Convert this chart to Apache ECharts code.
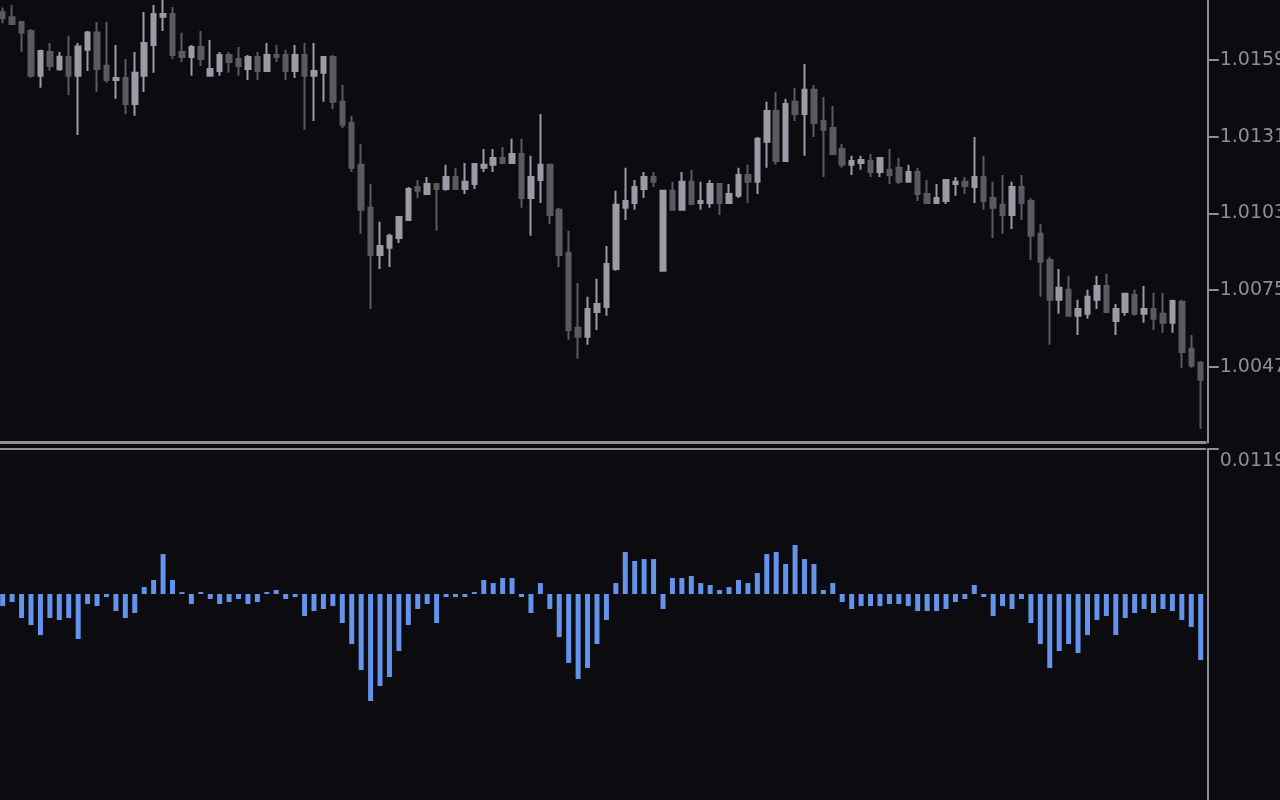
<!DOCTYPE html>
<html>
<head>
<meta charset="utf-8">
<script src="https://cdn.jsdelivr.net/npm/echarts@6/dist/echarts.min.js"></script>
<style>
html,body{margin:0;padding:0;background:#0b0b10;}
#chart{width:1280px;height:800px;}
</style>
</head>
<body>
<div id="chart"></div>
<script>
const opens = [
1.01764,1.01746,1.01729,1.01696,1.01532,1.01619,1.01556,1.01601,1.01532,1.01627,
1.01690,1.01569,1.01517,1.01524,1.01429,1.01532,1.01645,1.01748,1.01758,1.01619,
1.01601,1.01637,1.01532,1.01550,1.01608,1.01594,1.01557,1.01601,1.01550,1.01608,
1.01608,1.01550,1.01608,1.01532,1.01543,1.01601,1.01437,1.01360,1.01207,1.01050,
1.00878,1.00904,1.00940,1.01006,1.01126,1.01101,1.01137,1.01119,1.01163,1.01119,
1.01137,1.01196,1.01207,1.01232,1.01214,1.01247,1.01086,1.01152,1.01207,1.01043,
1.00886,1.00612,1.00579,1.00670,1.00688,1.00827,1.01050,1.01068,1.01119,1.01163,
1.00820,1.01112,1.01043,1.01145,1.01068,1.01068,1.01137,1.01068,1.01094,1.01170,
1.01145,1.01291,1.01404,1.01221,1.01437,1.01393,1.01481,1.01367,1.01342,1.01265,
1.01207,1.01214,1.01221,1.01181,1.01189,1.01196,1.01145,1.01181,1.01101,1.01068,
1.01075,1.01137,1.01145,1.01126,1.01163,1.01086,1.01061,1.01024,1.01126,1.01075,
1.00955,1.00860,1.00714,1.00751,1.00656,1.00663,1.00714,1.00765,1.00637,1.00670,
1.00732,1.00663,1.00681,1.00663,1.00630,1.00707,1.00535,1.00484
];
const closes = [
1.01742,1.01721,1.01690,1.01532,1.01623,1.01568,1.01602,1.01532,1.01639,1.01690,
1.01557,1.01517,1.01524,1.01429,1.01543,1.01652,1.01758,1.01758,1.01608,1.01601,
1.01637,1.01594,1.01557,1.01608,1.01583,1.01568,1.01601,1.01550,1.01608,1.01601,
1.01550,1.01608,1.01532,1.01550,1.01601,1.01437,1.01353,1.01196,1.01043,1.00878,
1.00911,1.00948,1.01017,1.01119,1.01112,1.01137,1.01119,1.01163,1.01119,1.01145,
1.01210,1.01207,1.01232,1.01214,1.01247,1.01086,1.01163,1.01207,1.01024,1.00878,
1.00604,1.00579,1.00681,1.00699,1.00845,1.01061,1.01075,1.01126,1.01163,1.01145,
1.01112,1.01043,1.01145,1.01064,1.01075,1.01137,1.01068,1.01101,1.01170,1.01145,
1.01302,1.01404,1.01221,1.01429,1.01393,1.01481,1.01360,1.01335,1.01247,1.01207,
1.01221,1.01225,1.01181,1.01232,1.01170,1.01145,1.01181,1.01101,1.01068,1.01086,
1.01152,1.01145,1.01130,1.01163,1.01075,1.01050,1.01024,1.01126,1.01068,1.00948,
1.00853,1.00714,1.00758,1.00656,1.00681,1.00725,1.00765,1.00670,1.00681,1.00736,
1.00663,1.00681,1.00645,1.00630,1.00710,1.00524,1.00473,1.00422
];
const lows = [
1.01724,1.01721,1.01620,1.01525,1.01489,1.01551,1.01551,1.01462,1.01316,1.01550,
1.01473,1.01507,1.01448,1.01393,1.01386,1.01473,1.01543,1.01696,1.01594,1.01583,
1.01532,1.01568,1.01532,1.01532,1.01543,1.01532,1.01517,1.01517,1.01550,1.01583,
1.01517,1.01524,1.01335,1.01367,1.01437,1.01411,1.01342,1.01181,1.00955,1.00681,
1.00827,1.00834,1.00922,1.01006,1.01086,1.01101,1.00966,1.01112,1.01119,1.01101,
1.01119,1.01181,1.01181,1.01214,1.01214,1.01050,1.00948,1.01068,1.00991,1.00834,
1.00568,1.00499,1.00550,1.00604,1.00656,1.00820,1.01006,1.01043,1.01086,1.01126,
1.00820,1.01043,1.01043,1.01064,1.01043,1.01050,1.01024,1.01068,1.01086,1.01068,
1.01101,1.01196,1.01207,1.01221,1.01367,1.01240,1.01309,1.01163,1.01247,1.01196,
1.01170,1.01189,1.01163,1.01163,1.01137,1.01137,1.01145,1.01075,1.01068,1.01064,
1.01064,1.01094,1.01101,1.01068,1.01043,1.00940,1.00955,1.00973,1.01006,1.00860,
1.00725,1.00550,1.00663,1.00656,1.00586,1.00645,1.00681,1.00670,1.00586,1.00656,
1.00656,1.00630,1.00604,1.00594,1.00594,1.00466,1.00466,1.00243
];
const highs = [
1.01782,1.01791,1.01729,1.01702,1.01627,1.01652,1.01619,1.01678,1.01652,1.01696,
1.01729,1.01729,1.01645,1.01594,1.01619,1.01765,1.01791,1.01809,1.01783,1.01689,
1.01645,1.01696,1.01663,1.01619,1.01619,1.01637,1.01608,1.01619,1.01652,1.01645,
1.01627,1.01645,1.01652,1.01652,1.01601,1.01608,1.01499,1.01386,1.01283,1.01137,
1.00999,1.00955,1.01017,1.01126,1.01152,1.01163,1.01137,1.01207,1.01196,1.01214,
1.01214,1.01265,1.01265,1.01272,1.01302,1.01302,1.01240,1.01393,1.01207,1.01050,
1.00966,1.00776,1.00725,1.00791,1.00911,1.01112,1.01196,1.01152,1.01181,1.01181,
1.01112,1.01145,1.01181,1.01189,1.01145,1.01152,1.01137,1.01137,1.01196,1.01207,
1.01309,1.01437,1.01473,1.01448,1.01488,1.01575,1.01499,1.01455,1.01422,1.01283,
1.01240,1.01240,1.01247,1.01232,1.01265,1.01232,1.01207,1.01196,1.01152,1.01137,
1.01152,1.01163,1.01163,1.01309,1.01240,1.01145,1.01170,1.01145,1.01170,1.01086,
1.00991,1.00871,1.00827,1.00802,1.00714,1.00751,1.00802,1.00809,1.00699,1.00740,
1.00751,1.00765,1.00740,1.00740,1.00714,1.00714,1.00586,1.00491
];
const oscValues = [
-0.00099,-0.00066,-0.00197,-0.00255,-0.00337,-0.00197,-0.00213,-0.00197,-0.00369,-0.00082,
-0.00099,-0.00025,-0.00140,-0.00197,-0.00156,0.00057,0.00115,0.00328,0.00115,0.00016,
-0.00082,0.00016,-0.00041,-0.00082,-0.00066,-0.00041,-0.00082,-0.00066,0.00016,0.00033,
-0.00041,-0.00025,-0.00181,-0.00140,-0.00123,-0.00099,-0.00238,-0.00411,-0.00624,-0.00878,
-0.00755,-0.00681,-0.00468,-0.00255,-0.00123,-0.00082,-0.00238,-0.00025,-0.00025,-0.00025,
0.00016,0.00115,0.00090,0.00131,0.00131,-0.00025,-0.00156,0.00090,-0.00123,-0.00353,
-0.00566,-0.00698,-0.00608,-0.00411,-0.00213,0.00090,0.00345,0.00271,0.00287,0.00287,
-0.00123,0.00131,0.00131,0.00148,0.00090,0.00074,0.00033,0.00057,0.00115,0.00090,
0.00172,0.00328,0.00345,0.00246,0.00402,0.00287,0.00246,0.00033,0.00090,-0.00066,
-0.00123,-0.00099,-0.00099,-0.00099,-0.00082,-0.00082,-0.00099,-0.00140,-0.00140,-0.00140,
-0.00123,-0.00066,-0.00041,0.00074,-0.00025,-0.00181,-0.00099,-0.00123,-0.00041,-0.00238,
-0.00411,-0.00608,-0.00468,-0.00411,-0.00484,-0.00337,-0.00213,-0.00181,-0.00337,-0.00197,
-0.00156,-0.00123,-0.00156,-0.00123,-0.00140,-0.00213,-0.00271,-0.00542
];
const priceTicks = [1.0047, 1.0075, 1.0103, 1.0131, 1.0159];
const oscTicks = [0.0119];
const categories = opens.map((_, i) => String(i));

const candleData = opens.map((o, i) => [o, closes[i], lows[i], highs[i]]);

const AXIS = '#8e8e96';
const TXT = '#8e8e96';
const UP = '#9b9ba8';
const DOWN = '#5a5a61';
const FONT = 'DejaVu Sans';

const chart = echarts.init(document.getElementById('chart'), null, {renderer: 'canvas'});
chart.setOption({
  animation: false,
  backgroundColor: '#0b0b10',
  grid: [
    {left: -2.02, right: 74.6, top: 0, height: 442.5, containLabel: false, outerBoundsMode: 'none'},
    {left: -2.02, right: 74.6, top: 449, bottom: 0, containLabel: false, outerBoundsMode: 'none'}
  ],
  xAxis: [
    {type: 'category', gridIndex: 0, data: categories, boundaryGap: true,
     axisLine: {show: true, onZero: false, lineStyle: {color: AXIS, width: 3}},
     axisTick: {show: false}, axisLabel: {show: false}, splitLine: {show: false}},
    {type: 'category', gridIndex: 1, data: categories, boundaryGap: true, position: 'top',
     axisLine: {show: true, onZero: false, lineStyle: {color: AXIS, width: 2}},
     axisTick: {show: false}, axisLabel: {show: false}, splitLine: {show: false}}
  ],
  yAxis: [
    {type: 'value', gridIndex: 0, position: 'right', offset: 2.3,
     min: 1.001931, max: 1.01809, scale: true,
     axisLine: {show: true, lineStyle: {color: AXIS, width: 2}},
     axisTick: {show: true, length: 11, customValues: priceTicks, lineStyle: {color: AXIS, width: 2}},
     axisLabel: {show: true, customValues: priceTicks, margin: 12, color: TXT,
       fontFamily: FONT, fontSize: 19, verticalAlign: 'middle', padding: [7, 0, 0, 0],
       formatter: v => v.toFixed(4)},
     splitLine: {show: false}},
    {type: 'value', gridIndex: 1, position: 'right', offset: 2.3,
     min: -0.016906, max: 0.0119,
     axisLine: {show: true, lineStyle: {color: AXIS, width: 2}},
     axisTick: {show: true, length: 11, customValues: oscTicks, lineStyle: {color: AXIS, width: 2}},
     axisLabel: {show: true, customValues: oscTicks, margin: 12, color: TXT,
       fontFamily: FONT, fontSize: 19, verticalAlign: 'top', padding: [3, 0, 0, 0],
       formatter: v => v.toFixed(4)},
     splitLine: {show: false}}
  ],
  series: [
    {type: 'candlestick', xAxisIndex: 0, yAxisIndex: 0, data: candleData,
     barWidth: 5,
     itemStyle: {color: UP, color0: DOWN, borderColor: UP, borderColor0: DOWN, borderWidth: 2}},
    {type: 'bar', xAxisIndex: 1, yAxisIndex: 1, data: oscValues, barWidth: 5,
     itemStyle: {color: '#6393ea'}}
  ]
});
</script>
</body>
</html>
